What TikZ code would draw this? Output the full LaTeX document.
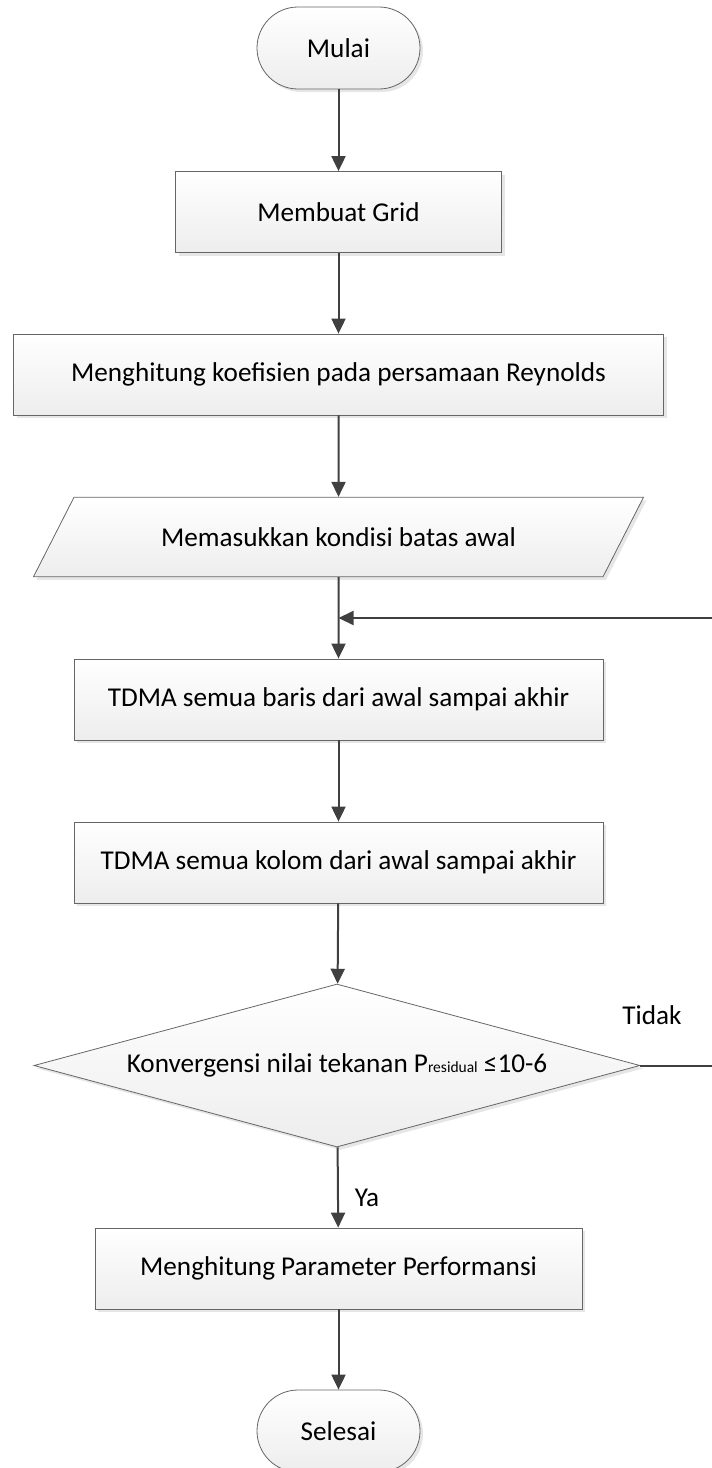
\documentclass[tikz,border=0pt]{standalone}
\usepackage{fontspec}
\setmainfont{Carlito}
\usepackage{tikz}
\usetikzlibrary{arrows.meta,shapes.geometric,shadows}

\tikzset{
  shape base/.style={draw=black!60, line width=0.8pt, top color=white, bottom color=black!7,
    drop shadow={shadow xshift=3pt, shadow yshift=-3pt, fill=black!12, opacity=0.8},
    font=\fontsize{27.2}{30}\selectfont, text=black, inner sep=0pt},
  terminal/.style={shape base, rectangle, rounded corners=41pt, minimum width=163pt, minimum height=82pt},
  process/.style={shape base, rectangle, minimum height=81pt},
  iobox/.style={shape base, trapezium, trapezium left angle=63, trapezium right angle=117,
    trapezium stretches body, inner ysep=30.2pt, minimum width=610pt},
  decision/.style={shape base, diamond, aspect=3.7, minimum width=606pt, minimum height=163pt},
  arr/.style={draw=black!75, line width=2pt, -{Triangle[length=15pt,width=14pt]}},
  line/.style={draw=black!75, line width=2pt},
  lbl/.style={font=\fontsize{27.2}{30}\selectfont, inner sep=0pt}
}

\begin{document}
\begin{tikzpicture}[x=1pt, y=-1pt]
\useasboundingbox (0,0) rectangle (712,1468);

\node[terminal] (mulai) at (338.5,48) {Mulai};
\node[process, minimum width=326pt] (grid) at (338.5,212) {Membuat Grid};
\node[process, minimum width=650pt] (koef) at (338.5,374.5) {Menghitung koefisien pada persamaan Reynolds};
\node[iobox] (batas) at (338.5,537) {Memasukkan kondisi batas awal};
\node[process, minimum width=529pt] (baris) at (338.5,699.5) {TDMA semua baris dari awal sampai akhir};
\node[process, minimum width=529pt] (kolom) at (338.5,862.5) {TDMA semua kolom dari awal sampai akhir};
\node[decision] (konv) at (337,1065.5) {Konvergensi nilai tekanan P{\fontsize{15.5}{15.5}\selectfont residual} ≤10-6};
\node[process, minimum width=487pt] (param) at (338.5,1268.5) {Menghitung Parameter Performansi};
\node[terminal] (selesai) at (338.5,1431) {Selesai};

\node[lbl] (tidak) at (652,1015) {Tidak};
\node[lbl] (ya) at (367,1198) {Ya};

% loop kembali
\coordinate (kanan) at (713,1065.5);
\coordinate (atas) at (713,618);
\coordinate (masuk) at (338.5,618);

\draw[arr] (mulai) -- (grid);
\draw[arr] (grid) -- (koef);
\draw[arr] (koef) -- (batas);
\draw[arr] (batas) -- (baris);
\draw[arr] (baris) -- (kolom);
\draw[arr] (kolom) -- (konv);
\draw[arr] (konv) -- (param);
\draw[arr] (param) -- (selesai);
\draw[line] (konv.east) -- (kanan) -- (atas);
\draw[arr] (atas) -- (masuk);
\end{tikzpicture}
\end{document}
